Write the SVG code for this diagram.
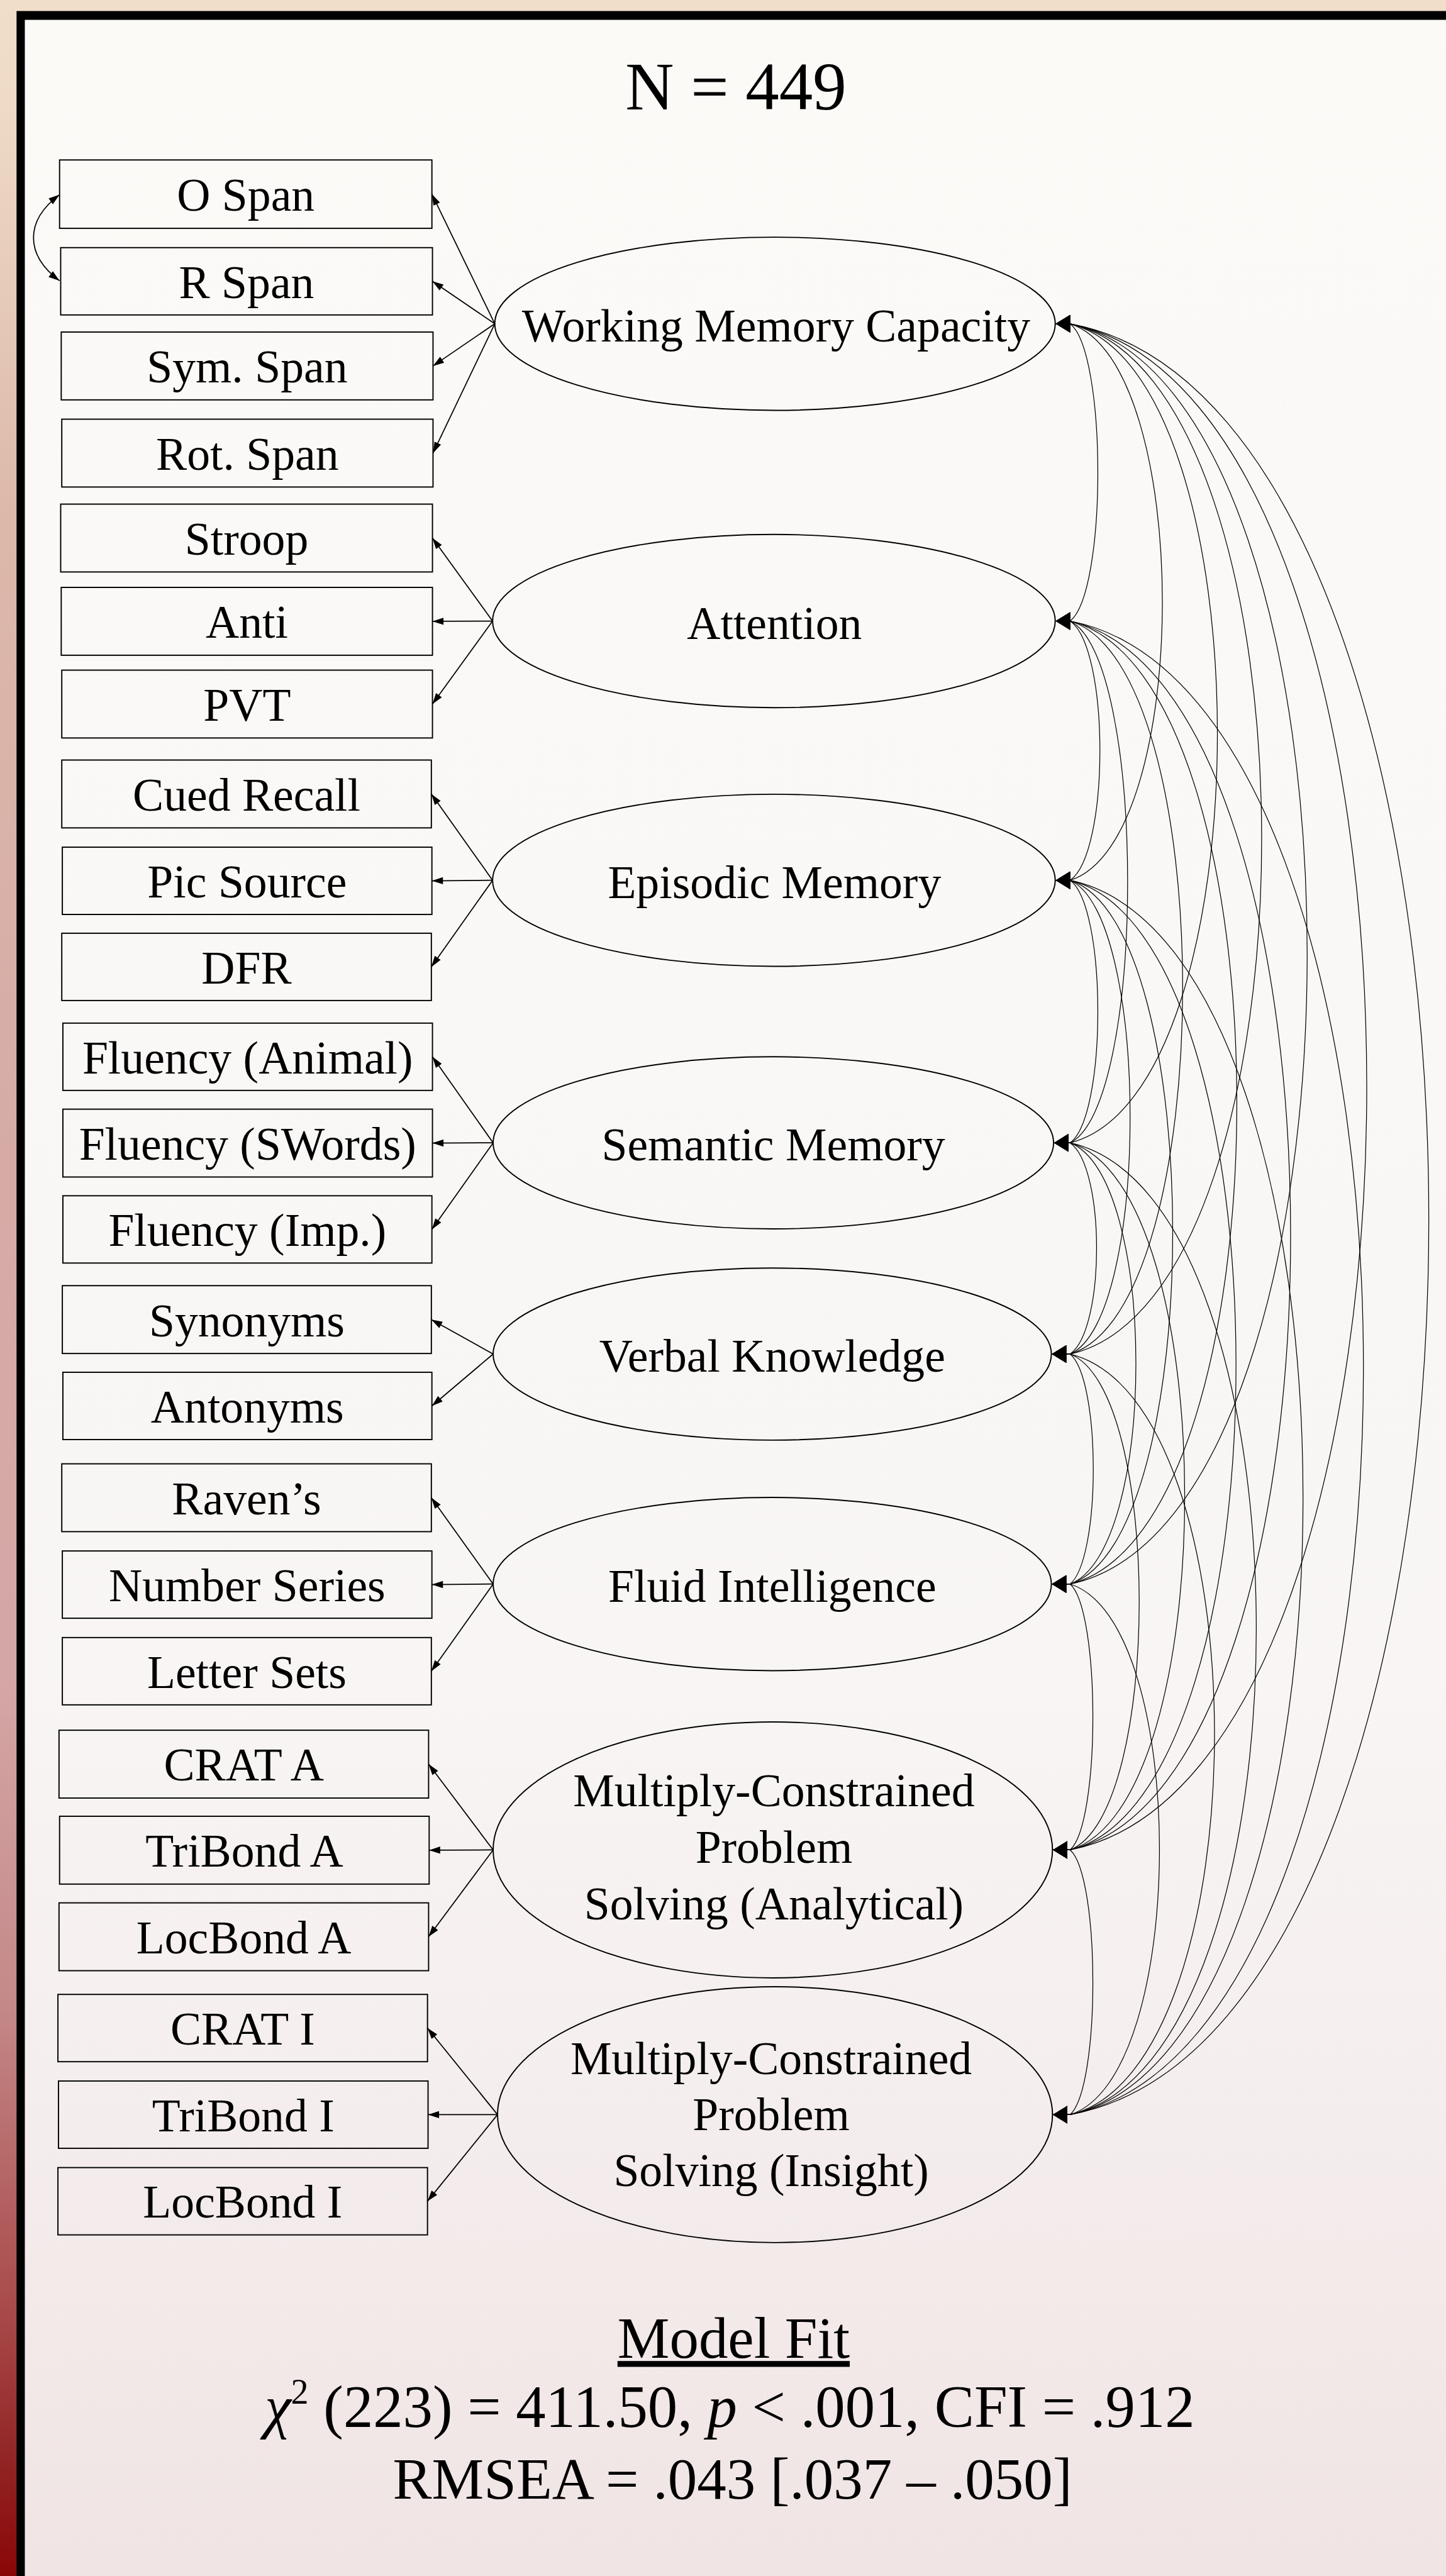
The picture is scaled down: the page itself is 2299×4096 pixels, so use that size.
<svg xmlns="http://www.w3.org/2000/svg" width="2299" height="4096" viewBox="0 0 2299 4096">
<defs>
<linearGradient id="bg" x1="0" y1="0" x2="0" y2="1">
<stop offset="0" stop-color="#f0ddca"/>
<stop offset="0.04" stop-color="#eedac7"/>
<stop offset="0.2" stop-color="#dcb8aa"/>
<stop offset="0.45" stop-color="#d6aba6"/>
<stop offset="0.65" stop-color="#d4a7a6"/>
<stop offset="0.78" stop-color="#c48888"/>
<stop offset="0.9" stop-color="#a84848"/>
<stop offset="0.95" stop-color="#932828"/>
<stop offset="1" stop-color="#8a0606"/>
</linearGradient>
<linearGradient id="panel" x1="0" y1="0" x2="0" y2="1">
<stop offset="0" stop-color="#fcfaf7"/>
<stop offset="0.4" stop-color="#f9f8f7"/>
<stop offset="0.65" stop-color="#f8f5f4"/>
<stop offset="0.8" stop-color="#f5eeee"/>
<stop offset="1" stop-color="#f0e4e4"/>
</linearGradient>
<marker id="cov" markerUnits="userSpaceOnUse" viewBox="-1 -18 30 36" markerWidth="30" markerHeight="36" refX="0" refY="0" orient="0">
<path d="M0,0 L26,-16 L26,16 Z" fill="#000"/>
</marker>
<marker id="load" markerUnits="userSpaceOnUse" viewBox="-22 -8 24 16" markerWidth="24" markerHeight="16" refX="0" refY="0" orient="auto">
<path d="M0,0 L-20,-6.5 L-20,6.5 Z" fill="#000"/>
</marker>
<marker id="dbl" markerUnits="userSpaceOnUse" viewBox="-22 -8 24 16" markerWidth="24" markerHeight="16" refX="0" refY="0" orient="auto-start-reverse">
<path d="M0,0 L-20,-6.5 L-20,6.5 Z" fill="#000"/>
</marker>
</defs>
<style>
.box{fill:none;stroke:#000;stroke-width:2.2}
.lat{fill:none;stroke:#000;stroke-width:2.2}
.t{font-family:"Liberation Serif","Times New Roman",serif;font-size:84px;text-anchor:middle;fill:#000}
.f{font-family:"Liberation Serif","Times New Roman",serif;font-size:106px;text-anchor:middle;fill:#000}
.ld{fill:none;stroke:#000;stroke-width:2;marker-end:url(#load)}
.cv{fill:none;stroke:#000;stroke-width:1.4;marker-start:url(#cov);marker-end:url(#cov)}
</style>
<rect x="0" y="0" width="2299" height="4096" fill="url(#bg)"/>
<g transform="scale(0.877)">
<rect x="30" y="20" width="2620" height="4680" fill="#000"/>
<rect x="45" y="36" width="2620" height="4660" fill="url(#panel)"/>

<text class="f" x="1334" y="198" style="font-size:122px">N = 449</text>

<g id="connectors">
<path class="ld" d="M897,587 L783,352"/>
<path class="ld" d="M897,587 L784,510"/>
<path class="ld" d="M897,587 L785,663.5"/>
<path class="ld" d="M897,587 L785,821.5"/>
<path class="ld" d="M893,1126 L784,975.5"/>
<path class="ld" d="M893,1126 L784,1126.5"/>
<path class="ld" d="M893,1126 L784,1276.5"/>
<path class="ld" d="M893,1596 L782,1439.5"/>
<path class="ld" d="M893,1596 L783,1597"/>
<path class="ld" d="M893,1596 L782,1753"/>
<path class="ld" d="M894,2072 L784,1916"/>
<path class="ld" d="M894,2072 L784,2072.5"/>
<path class="ld" d="M894,2072 L783,2229"/>
<path class="ld" d="M894,2455 L782,2392.5"/>
<path class="ld" d="M894,2455 L783,2549"/>
<path class="ld" d="M894,2872 L782,2715.5"/>
<path class="ld" d="M894,2872 L783,2873"/>
<path class="ld" d="M894,2872 L782,3030"/>
<path class="ld" d="M894,3354 L777,3198.5"/>
<path class="ld" d="M894,3354 L778,3354.5"/>
<path class="ld" d="M894,3354 L777,3511.5"/>
<path class="ld" d="M902,3834 L775,3677"/>
<path class="ld" d="M902,3834 L776,3834"/>
<path class="ld" d="M902,3834 L775,3991"/>
<path d="M108,353 C45,400 45,462 108,509" fill="none" stroke="#000" stroke-width="2" marker-start="url(#dbl)" marker-end="url(#dbl)"/>

<path class="cv" d="M1914,587 L1940,587 C2007,639 2007,1074 1940,1126 L1914,1126"/>
<path class="cv" d="M1914,587 L1940,587 C2163,657 2163,1526 1940,1596 L1914,1596"/>
<path class="cv" d="M1914,587 L1940,587 C2296,676 2296,1983 1940,2072 L1911,2072"/>
<path class="cv" d="M1914,587 L1940,587 C2403,692 2403,2350 1940,2455 L1907,2455"/>
<path class="cv" d="M1914,587 L1940,587 C2513,708 2513,2751 1940,2872 L1907,2872"/>
<path class="cv" d="M1914,587 L1940,587 C2657,728 2657,3213 1940,3354 L1909,3354"/>
<path class="cv" d="M1914,587 L1940,587 C2807,747 2807,3674 1940,3834 L1909,3834"/>
<path class="cv" d="M1914,1126 L1940,1126 C2012,1175 2012,1547 1940,1596 L1914,1596"/>
<path class="cv" d="M1914,1126 L1940,1126 C2079,1194 2079,2004 1940,2072 L1911,2072"/>
<path class="cv" d="M1914,1126 L1940,1126 C2212,1209 2212,2372 1940,2455 L1907,2455"/>
<path class="cv" d="M1914,1126 L1940,1126 C2343,1226 2343,2772 1940,2872 L1907,2872"/>
<path class="cv" d="M1914,1126 L1940,1126 C2473,1245 2473,3235 1940,3354 L1909,3354"/>
<path class="cv" d="M1914,1126 L1940,1126 C2649,1264 2649,3696 1940,3834 L1909,3834"/>
<path class="cv" d="M1914,1596 L1940,1596 C2007,1645 2007,2023 1940,2072 L1911,2072"/>
<path class="cv" d="M1914,1596 L1940,1596 C2085,1660 2085,2391 1940,2455 L1907,2455"/>
<path class="cv" d="M1914,1596 L1940,1596 C2188,1677 2188,2791 1940,2872 L1907,2872"/>
<path class="cv" d="M1914,1596 L1940,1596 C2341,1696 2341,3254 1940,3354 L1909,3354"/>
<path class="cv" d="M1914,1596 L1940,1596 C2503,1716 2503,3714 1940,3834 L1909,3834"/>
<path class="cv" d="M1911,2072 L1940,2072 C2004,2117 2004,2410 1940,2455 L1907,2455"/>
<path class="cv" d="M1911,2072 L1940,2072 C2099,2134 2099,2810 1940,2872 L1907,2872"/>
<path class="cv" d="M1911,2072 L1940,2072 C2217,2153 2217,3273 1940,3354 L1909,3354"/>
<path class="cv" d="M1911,2072 L1940,2072 C2390,2172 2390,3734 1940,3834 L1909,3834"/>
<path class="cv" d="M1907,2455 L1940,2455 C1996,2502 1996,2825 1940,2872 L1907,2872"/>
<path class="cv" d="M1907,2455 L1940,2455 C2107,2521 2107,3288 1940,3354 L1909,3354"/>
<path class="cv" d="M1907,2455 L1940,2455 C2289,2540 2289,3749 1940,3834 L1909,3834"/>
<path class="cv" d="M1907,2872 L1940,2872 C1995,2921 1995,3305 1940,3354 L1909,3354"/>
<path class="cv" d="M1907,2872 L1940,2872 C2156,2940 2156,3766 1940,3834 L1909,3834"/>
<path class="cv" d="M1909,3354 L1940,3354 C1995,3403 1995,3785 1940,3834 L1909,3834"/>
</g>

<g id="n-ospan"><rect class="box" x="108" y="290" width="675" height="124"/><text class="t" x="445.5" y="382">O Span</text></g>
<g id="n-rspan"><rect class="box" x="110" y="449" width="674" height="122"/><text class="t" x="447" y="540">R Span</text></g>
<g id="n-symspan"><rect class="box" x="111" y="602" width="674" height="123"/><text class="t" x="448" y="693.5">Sym. Span</text></g>
<g id="n-rotspan"><rect class="box" x="112" y="760" width="673" height="123"/><text class="t" x="448.5" y="851.5">Rot. Span</text></g>
<g id="n-stroop"><rect class="box" x="110" y="914" width="674" height="123"/><text class="t" x="447" y="1005.5">Stroop</text></g>
<g id="n-anti"><rect class="box" x="111" y="1065" width="673" height="123"/><text class="t" x="447.5" y="1156.5">Anti</text></g>
<g id="n-pvt"><rect class="box" x="112" y="1215" width="672" height="123"/><text class="t" x="448" y="1306.5">PVT</text></g>
<g id="n-cued"><rect class="box" x="112" y="1378" width="670" height="123"/><text class="t" x="447" y="1469.5">Cued Recall</text></g>
<g id="n-pic"><rect class="box" x="113" y="1536" width="670" height="122"/><text class="t" x="448" y="1627">Pic Source</text></g>
<g id="n-dfr"><rect class="box" x="112" y="1692" width="670" height="122"/><text class="t" x="447" y="1783">DFR</text></g>
<g id="n-flanimal"><rect class="box" x="114" y="1855" width="670" height="122"/><text class="t" x="449" y="1946">Fluency (Animal)</text></g>
<g id="n-flswords"><rect class="box" x="114" y="2011" width="670" height="123"/><text class="t" x="449" y="2102.5">Fluency (SWords)</text></g>
<g id="n-flimp"><rect class="box" x="114" y="2168" width="669" height="122"/><text class="t" x="448.5" y="2259">Fluency (Imp.)</text></g>
<g id="n-syn"><rect class="box" x="113" y="2331" width="669" height="123"/><text class="t" x="447.5" y="2422.5">Synonyms</text></g>
<g id="n-ant"><rect class="box" x="114" y="2488" width="669" height="122"/><text class="t" x="448.5" y="2579">Antonyms</text></g>
<g id="n-raven"><rect class="box" x="112" y="2654" width="670" height="123"/><text class="t" x="447" y="2745.5">Raven’s</text></g>
<g id="n-numser"><rect class="box" x="113" y="2812" width="670" height="122"/><text class="t" x="448" y="2903">Number Series</text></g>
<g id="n-letset"><rect class="box" x="113" y="2969" width="669" height="122"/><text class="t" x="447.5" y="3060">Letter Sets</text></g>
<g id="n-crata"><rect class="box" x="107" y="3137" width="670" height="123"/><text class="t" x="442" y="3228.5">CRAT A</text></g>
<g id="n-tribonda"><rect class="box" x="108" y="3293" width="670" height="123"/><text class="t" x="443" y="3384.5">TriBond A</text></g>
<g id="n-locbonda"><rect class="box" x="107" y="3450" width="670" height="123"/><text class="t" x="442" y="3541.5">LocBond A</text></g>
<g id="n-crati"><rect class="box" x="105" y="3616" width="670" height="122"/><text class="t" x="440" y="3707">CRAT I</text></g>
<g id="n-tribondi"><rect class="box" x="106" y="3773" width="670" height="122"/><text class="t" x="441" y="3864">TriBond I</text></g>
<g id="n-locbondi"><rect class="box" x="105" y="3930" width="670" height="122"/><text class="t" x="440" y="4021">LocBond I</text></g>

<g id="f-wmc"><ellipse class="lat" cx="1405" cy="587" rx="508" ry="157"/><text class="t" x="1407" y="619">Working Memory Capacity</text></g>
<g id="f-att"><ellipse class="lat" cx="1403" cy="1126" rx="510" ry="157"/><text class="t" x="1404" y="1158">Attention</text></g>
<g id="f-epi"><ellipse class="lat" cx="1403" cy="1596" rx="510" ry="156"/><text class="t" x="1404" y="1628">Episodic Memory</text></g>
<g id="f-sem"><ellipse class="lat" cx="1402" cy="2072" rx="508" ry="156"/><text class="t" x="1402" y="2104">Semantic Memory</text></g>
<g id="f-verb"><ellipse class="lat" cx="1400" cy="2455" rx="506" ry="156"/><text class="t" x="1400" y="2487">Verbal Knowledge</text></g>
<g id="f-fluid"><ellipse class="lat" cx="1400" cy="2872" rx="506" ry="157"/><text class="t" x="1400" y="2904">Fluid Intelligence</text></g>
<g id="f-mcpsa"><ellipse class="lat" cx="1401" cy="3354" rx="507" ry="232"/><text class="t" x="1403" y="3275">Multiply-Constrained</text><text class="t" x="1403" y="3377">Problem</text><text class="t" x="1403" y="3480">Solving (Analytical)</text></g>
<g id="f-mcpsi"><ellipse class="lat" cx="1405" cy="3834" rx="503" ry="232"/><text class="t" x="1398" y="3760">Multiply-Constrained</text><text class="t" x="1398" y="3862">Problem</text><text class="t" x="1398" y="3964">Solving (Insight)</text></g>

<text class="f" x="1330" y="4275" text-decoration="underline">Model Fit</text>
<text class="f" x="1323" y="4400" style="font-size:108px"><tspan font-style="italic">χ</tspan><tspan style="font-size:64px" dy="-42">2</tspan><tspan dy="42"> (223) = 411.50, </tspan><tspan font-style="italic">p</tspan> &lt; .001, CFI = .912</text>
<text class="f" x="1328" y="4530">RMSEA = .043 [.037 – .050]</text>
</g>
</svg>
